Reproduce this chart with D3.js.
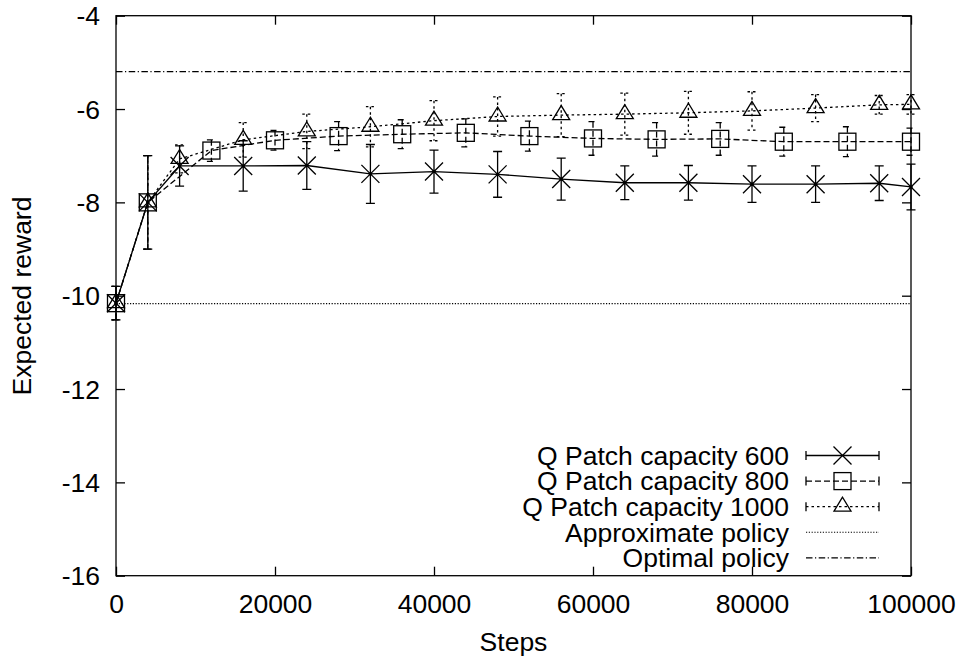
<!DOCTYPE html>
<html>
<head>
<meta charset="utf-8">
<script src="https://cdn.jsdelivr.net/npm/d3@7"></script>
<style>
  html, body { margin: 0; padding: 0; background: #fff; }
  svg { display: block; }
  text { font-family: "Liberation Sans", Arial, Helvetica, sans-serif; fill: #000; }
</style>
</head>
<body>
<svg id="chart" width="962" height="660"></svg>
<script>
// Learning curves: expected reward vs. training steps for three Q Patch capacities
const steps600 = [0, 4000, 8000, 16000, 24000, 32000, 40000, 48000, 56000, 64000, 72000, 80000, 88000, 96000, 100000];
const reward600 = [-10.16, -8.0, -7.22, -7.22, -7.21, -7.39, -7.34, -7.40, -7.50, -7.58, -7.58, -7.61, -7.61, -7.59, -7.67];
const err600 = [0.36, 1.0, 0.43, 0.54, 0.51, 0.63, 0.46, 0.49, 0.45, 0.36, 0.37, 0.39, 0.39, 0.37, 0.49];

const steps800 = [0, 4000, 12000, 20000, 28000, 36000, 44000, 52000, 60000, 68000, 76000, 84000, 92000, 100000];
const reward800 = [-10.16, -8.0, -6.89, -6.67, -6.58, -6.54, -6.51, -6.58, -6.63, -6.65, -6.64, -6.70, -6.70, -6.70];
const err800 = [0.36, 1.0, 0.23, 0.21, 0.31, 0.31, 0.30, 0.32, 0.36, 0.36, 0.35, 0.31, 0.32, 0.29];

const steps1000 = [0, 4000, 8000, 16000, 24000, 32000, 40000, 48000, 56000, 64000, 72000, 80000, 88000, 96000, 100000];
const reward1000 = [-10.16, -8.0, -7.07, -6.66, -6.48, -6.38, -6.25, -6.16, -6.13, -6.11, -6.08, -6.04, -5.98, -5.91, -5.90];
const err1000 = [0.36, 1.0, 0.30, 0.37, 0.37, 0.43, 0.43, 0.42, 0.46, 0.45, 0.46, 0.41, 0.29, 0.20, 0.21];

const approximatePolicy = -10.17;
const optimalPolicy = -5.2;

const xTicks = [0, 20000, 40000, 60000, 80000, 100000];
const yTicks = [-4, -6, -8, -10, -12, -14, -16];

const legendLabels = ["Q Patch capacity 600", "Q Patch capacity 800", "Q Patch capacity 1000", "Approximate policy", "Optimal policy"];

// ---- layout ----
const plotLeft = 116, plotRight = 911, plotTop = 15.7, plotBottom = 575.7;
const fontSize = 26.5;
const tickLen = 9;
const ink = "#000";
const lw = 1.3;

const svg = d3.select("#chart");
const x = d3.scaleLinear().domain([0, 100000]).range([plotLeft, plotRight]);
const y = d3.scaleLinear().domain([-16, -4]).range([plotBottom, plotTop]);

// line styles per series
const styles = {
  s600: { dash: null, marker: "cross", cap: 4.5 },
  s800: { dash: "6,3", marker: "square", cap: 4.5 },
  s1000: { dash: "2.5,3", marker: "triangle", cap: 4.5 },
  approx: { dash: "1.2,1.6" },
  optimal: { dash: "6.5,2.5,1.2,2.5" }
};

// ---- axes (ticks point inward, mirrored on all sides) ----
const fmt = d => String(d);
const axB = svg.append("g").attr("transform", `translate(0,${plotBottom})`)
  .call(d3.axisBottom(x).tickValues(xTicks).tickFormat(fmt).tickSize(-tickLen).tickSizeOuter(0).tickPadding(18.5));
const axT = svg.append("g").attr("transform", `translate(0,${plotTop})`)
  .call(d3.axisTop(x).tickValues(xTicks).tickFormat("").tickSize(-tickLen).tickSizeOuter(0));
const axL = svg.append("g").attr("transform", `translate(${plotLeft},0)`)
  .call(d3.axisLeft(y).tickValues(yTicks).tickFormat(fmt).tickSize(-tickLen).tickSizeOuter(0).tickPadding(16));
const axR = svg.append("g").attr("transform", `translate(${plotRight},0)`)
  .call(d3.axisRight(y).tickValues(yTicks).tickFormat("").tickSize(-tickLen).tickSizeOuter(0));

[axB, axT, axL, axR].forEach(a => {
  a.attr("font-family", null).attr("font-size", null);
  a.select(".domain").remove();
  a.selectAll(".tick line").attr("stroke", ink).attr("stroke-width", lw);
  a.selectAll("text").attr("font-size", fontSize).attr("fill", ink);
});
axL.selectAll("text").attr("dy", "0.35em");

// frame
svg.append("rect").attr("x", plotLeft).attr("y", plotTop).attr("width", plotRight - plotLeft).attr("height", plotBottom - plotTop)
  .attr("fill", "none").attr("stroke", ink).attr("stroke-width", lw);

// axis titles
svg.append("text").attr("x", (plotLeft + plotRight) / 2).attr("y", 651).attr("text-anchor", "middle")
  .attr("font-size", fontSize).text("Steps");
svg.append("text").attr("transform", `translate(31,296) rotate(-90)`).attr("text-anchor", "middle")
  .attr("font-size", fontSize).text("Expected reward");

// ---- marker drawing ----
function drawMarker(g, kind, cx, cy) {
  if (kind === "cross") {
    const s = 9;
    g.append("path").attr("d", `M${cx - s},${cy - s}L${cx + s},${cy + s}M${cx - s},${cy + s}L${cx + s},${cy - s}`)
      .attr("stroke", ink).attr("stroke-width", lw).attr("fill", "none");
  } else if (kind === "square") {
    const s = 8.5;
    g.append("rect").attr("x", cx - s).attr("y", cy - s).attr("width", 2 * s).attr("height", 2 * s)
      .attr("stroke", ink).attr("stroke-width", lw).attr("fill", "none");
  } else if (kind === "triangle") {
    g.append("path").attr("d", `M${cx},${cy - 9.5}L${cx - 8.5},${cy + 4.5}L${cx + 8.5},${cy + 4.5}Z`)
      .attr("stroke", ink).attr("stroke-width", lw).attr("fill", "none");
  }
}

const plot = svg.append("g");

function drawSeries(stepsArr, values, errs, st) {
  const g = plot.append("g");
  const pts = stepsArr.map((s, i) => ({ s, v: values[i], e: errs[i] }));
  // connecting line
  g.append("path").datum(pts)
    .attr("d", d3.line().x(d => x(d.s)).y(d => y(d.v)))
    .attr("fill", "none").attr("stroke", ink).attr("stroke-width", lw)
    .attr("stroke-dasharray", st.dash);
  // error bars
  pts.forEach(d => {
    const px = x(d.s), y1 = y(d.v + d.e), y2 = y(d.v - d.e);
    g.append("path")
      .attr("d", `M${px},${y1}L${px},${y2}M${px - st.cap},${y1}L${px + st.cap},${y1}M${px - st.cap},${y2}L${px + st.cap},${y2}`)
      .attr("fill", "none").attr("stroke", ink).attr("stroke-width", lw)
      .attr("stroke-dasharray", st.dash);
  });
  // markers
  pts.forEach(d => drawMarker(g, st.marker, x(d.s), y(d.v)));
  if (st.marker === "cross") {
    pts.forEach(d => g.append("circle").attr("cx", x(d.s)).attr("cy", y(d.v)).attr("r", 1.8).attr("fill", ink));
  }
}

drawSeries(steps600, reward600, err600, styles.s600);
drawSeries(steps800, reward800, err800, styles.s800);
drawSeries(steps1000, reward1000, err1000, styles.s1000);

// reference policies
plot.append("line").attr("x1", plotLeft).attr("x2", plotRight).attr("y1", y(approximatePolicy)).attr("y2", y(approximatePolicy))
  .attr("stroke", ink).attr("stroke-width", 1.1).attr("stroke-dasharray", styles.approx.dash);
plot.append("line").attr("x1", plotLeft).attr("x2", plotRight).attr("y1", y(optimalPolicy)).attr("y2", y(optimalPolicy))
  .attr("stroke", ink).attr("stroke-width", lw).attr("stroke-dasharray", styles.optimal.dash);

// ---- legend ----
const legend = svg.append("g");
const legTextX = 789, sx1 = 806, sx2 = 879, sxm = (sx1 + sx2) / 2;
const rowY0 = 455.5, rowStep = 25.6;
const legendStyles = [styles.s600, styles.s800, styles.s1000, styles.approx, styles.optimal];
legendLabels.forEach((lab, i) => {
  const ry = rowY0 + i * rowStep;
  legend.append("text").attr("x", legTextX).attr("y", ry).attr("dy", "0.35em")
    .attr("text-anchor", "end").attr("font-size", fontSize).text(lab);
  const st = legendStyles[i];
  legend.append("line").attr("x1", sx1).attr("x2", sx2).attr("y1", ry).attr("y2", ry)
    .attr("stroke", ink).attr("stroke-width", i === 3 ? 1.1 : lw).attr("stroke-dasharray", st.dash);
  if (st.marker) {
    legend.append("path").attr("d", `M${sx1},${ry - 4.5}L${sx1},${ry + 4.5}M${sx2},${ry - 4.5}L${sx2},${ry + 4.5}`)
      .attr("stroke", ink).attr("stroke-width", lw);
    drawMarker(legend, st.marker, sxm, ry);
  }
});
</script>
</body>
</html>
